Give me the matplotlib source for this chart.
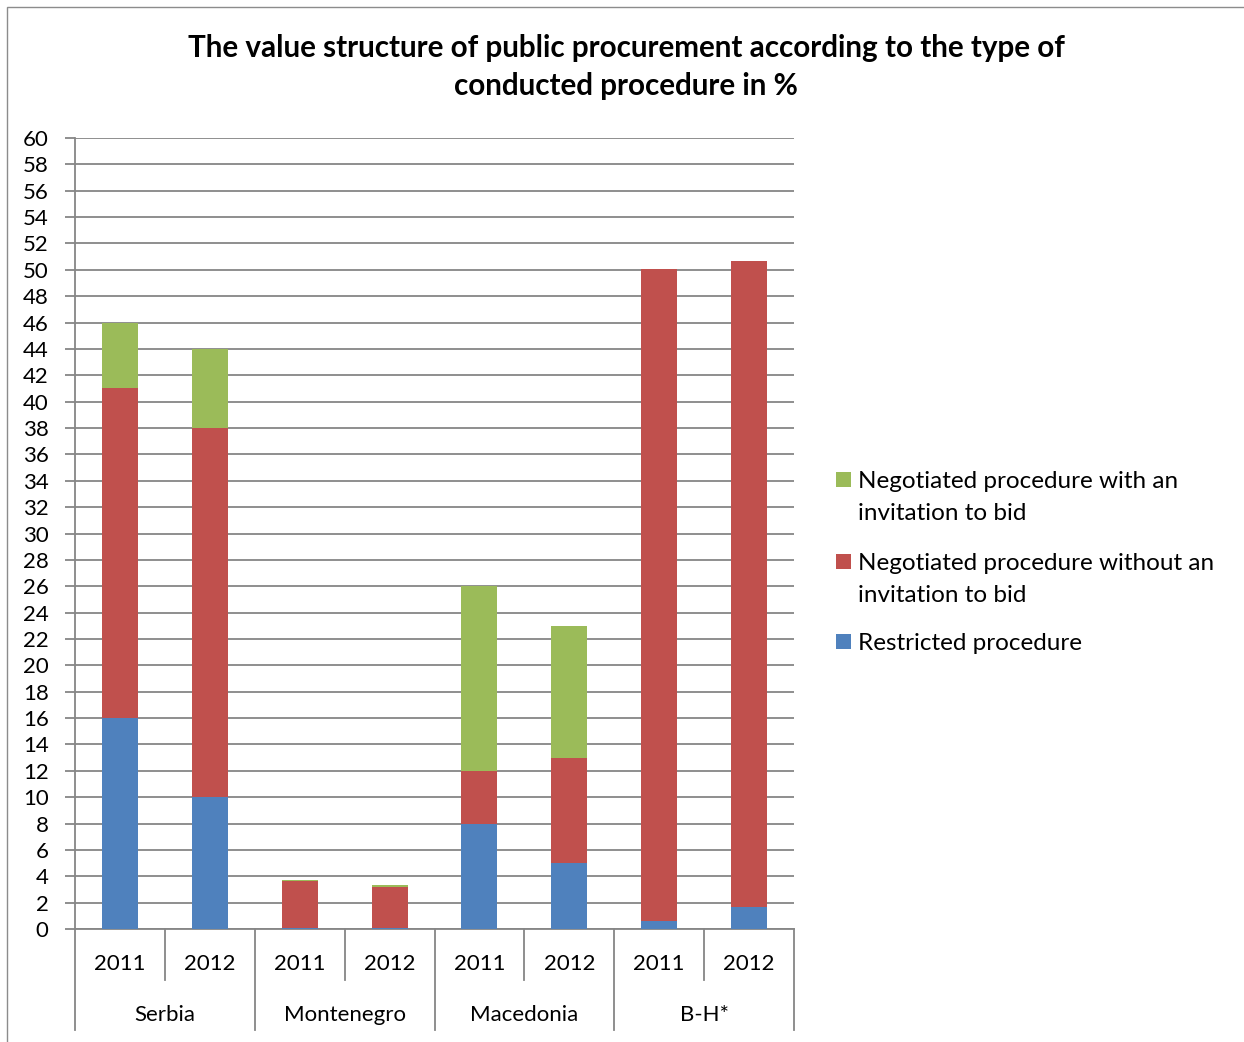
import matplotlib
matplotlib.use("Agg")
import matplotlib.pyplot as plt
from matplotlib.patches import Rectangle
from matplotlib.transforms import blended_transform_factory
import numpy as np

plt.rcParams['font.family'] = ['Lato', 'DejaVu Sans']

countries = ["Serbia", "Montenegro", "Macedonia", "B-H*"]
years = ["2011", "2012"]
restricted = [16, 10, 0.1, 0.05, 8, 5, 0.6, 1.7]
without_invitation = [25, 28, 3.55, 3.15, 4, 8, 49.5, 49.0]
with_invitation = [5, 6, 0.03, 0.12, 14, 10, 0, 0]
y_ticks = list(range(0, 61, 2))

series_labels = ["Restricted procedure",
                 "Negotiated procedure without an\ninvitation to bid",
                 "Negotiated procedure with an\ninvitation to bid"]
colors = ["#4F81BD", "#C0504D", "#9BBB59"]

W, H = 1244, 1042
fig = plt.figure(figsize=(W / 100, H / 100), dpi=100)
fig.patches.append(Rectangle((7 / W, -0.01), 1.0, 1 - 7 / H + 0.01, transform=fig.transFigure,
                             fill=False, edgecolor="#8c8c8c", linewidth=1.0))

left, right, top, bottom = 75, 794, 138, 929
ax = fig.add_axes([left / W, 1 - bottom / H, (right - left) / W, (bottom - top) / H])

x = np.arange(len(restricted))
bw = 0.4
b1 = np.array(restricted)
b2 = b1 + np.array(without_invitation)
ax.bar(x, restricted, bw, color=colors[0], zorder=3)
ax.bar(x, without_invitation, bw, bottom=b1, color=colors[1], zorder=3)
ax.bar(x, with_invitation, bw, bottom=b2, color=colors[2], zorder=3)

ax.set_xlim(-0.5, len(x) - 0.5)
ax.set_ylim(0, 60)
ax.set_yticks(y_ticks)
ax.set_yticklabels([str(v) for v in y_ticks], fontsize=16)
ax.yaxis.grid(True, color="#868686", linewidth=1.3, zorder=0)
ax.tick_params(axis="y", length=7, color="#868686", width=1.3, pad=12)
ax.set_xticks([])
for s in ["top", "right"]:
    ax.spines[s].set_visible(False)
for s in ["left", "bottom"]:
    ax.spines[s].set_color("#868686")
    ax.spines[s].set_linewidth(1.3)

# two-level category axis
tr = blended_transform_factory(ax.transData, ax.transAxes)
h_px = bottom - top
short = -(980 - bottom) / h_px
long_ = -(1030 - bottom) / h_px
for i in range(len(x) + 1):
    xe = i - 0.5
    depth = long_ if i % 2 == 0 else short
    ax.plot([xe, xe], [0, depth], transform=tr, color="#868686", lw=1.3, clip_on=False)
for i in range(len(x)):
    ax.text(i, -(964 - bottom) / h_px, years[i % 2], transform=tr, ha="center", va="center", fontsize=16)
for j, c in enumerate(countries):
    ax.text(2 * j + 0.5, -(1015 - bottom) / h_px, c, transform=tr, ha="center", va="center", fontsize=16)

fig.text(626 / W, 1 - 67 / H,
         "The value structure of public procurement according to the type of\nconducted procedure in %",
         ha="center", va="center", fontsize=21.3, fontweight="bold", linespacing=1.42)

# legend: swatch beside the first line of each (possibly wrapped) label
legend_rows = [480, 561, 641]
for row_y, k in zip(legend_rows, (2, 1, 0)):
    fig.patches.append(Rectangle((836 / W, 1 - (row_y + 7.5) / H), 15 / W, 15 / H,
                                 transform=fig.transFigure, facecolor=colors[k], edgecolor="none"))
    for n, line in enumerate(series_labels[k].split("\n")):
        fig.text(858 / W, 1 - (row_y + 32 * n) / H, line, ha="left", va="center_baseline",
                 fontsize=17.5)

fig.savefig("out.png", dpi=100)
